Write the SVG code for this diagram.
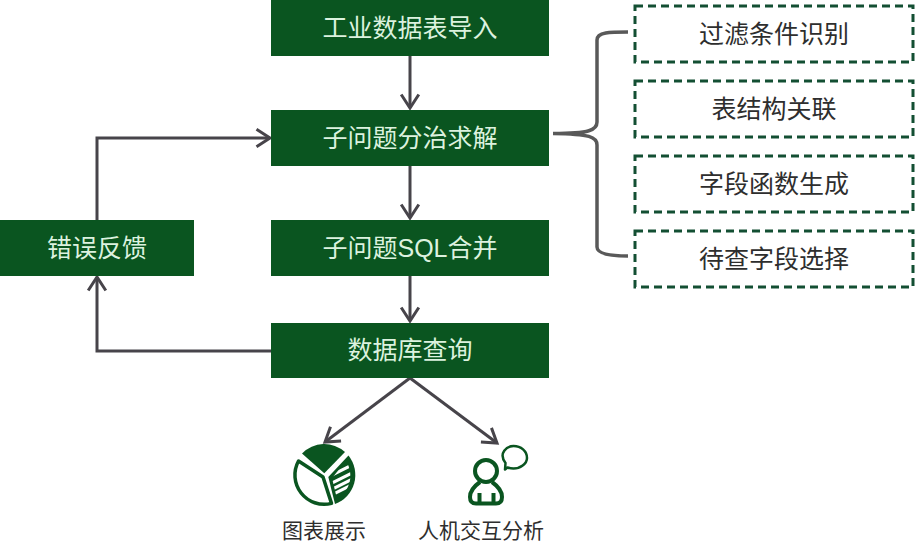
<svg xmlns="http://www.w3.org/2000/svg" width="915" height="551" viewBox="0 0 915 551">
<defs>
<marker id="arrow" markerUnits="userSpaceOnUse" markerWidth="20" markerHeight="24" refX="16" refY="12" orient="auto" viewBox="0 0 20 24">
<path d="M2.500 3.200 L16 12 L2.500 20.800" fill="none" stroke="#47444a" stroke-width="3"/>
</marker>
<clipPath id="hatch"><path d="M332 478 L346 461 A27 27 0 0 1 337 499 Z"/></clipPath>
</defs>
<style>
text{font-family:"Liberation Sans","Noto Sans CJK SC",sans-serif;text-anchor:middle}
.box{fill:#0a5520}
.bt{fill:#dcf2df;font-size:25px}
.dash{fill:#fff;stroke:#134f33;stroke-width:3;stroke-dasharray:8 5}
.dt{fill:#2e2e2e;font-size:25px}
.lbl{fill:#2e2e2e;font-size:21px}
.c{fill:none;stroke:#47444a;stroke-width:3}
.ic{fill:none;stroke:#0a5520;stroke-width:4}
</style>
<rect width="915" height="551" fill="#fff"/>
<g id="connectors">
<path class="c" d="M410 56V108" marker-end="url(#arrow)"/>
<path class="c" d="M410 166V218" marker-end="url(#arrow)"/>
<path class="c" d="M410 276V321" marker-end="url(#arrow)"/>
<path class="c" d="M97 220V138H270" marker-end="url(#arrow)"/>
<path class="c" d="M271 351H97V277" marker-end="url(#arrow)"/>
<path class="c" d="M410 378L325 442" marker-end="url(#arrow)"/>
<path class="c" d="M410 378L497 443" marker-end="url(#arrow)"/>
<path style="fill:none;stroke:#595959;stroke-width:3.500" d="M628 32C610 32 597 32 597 40V122C597 130 590 133.500 553 133.500C590 134 597 137 597 145V247C597 254 610 256 628 256"/>
</g>
<g id="n1"><rect class="box" x="271" y="0" width="278" height="56"/><text class="bt" x="410" y="37">工业数据表导入</text></g>
<g id="n2"><rect class="box" x="271" y="110" width="278" height="56"/><text class="bt" x="410" y="147">子问题分治求解</text></g>
<g id="n3"><rect class="box" x="271" y="220" width="278" height="56"/><text class="bt" x="410" y="257">子问题SQL合并</text></g>
<g id="n4"><rect class="box" x="271" y="323" width="278" height="55"/><text class="bt" x="410" y="359">数据库查询</text></g>
<g id="n5"><rect class="box" x="0" y="220" width="194" height="56"/><text class="bt" x="97" y="257">错误反馈</text></g>
<g id="d1"><rect class="dash" x="635" y="6" width="278" height="56"/><text class="dt" x="774" y="43">过滤条件识别</text></g>
<g id="d2"><rect class="dash" x="635" y="81" width="278" height="56"/><text class="dt" x="774" y="118">表结构关联</text></g>
<g id="d3"><rect class="dash" x="635" y="156" width="278" height="56"/><text class="dt" x="774" y="193">字段函数生成</text></g>
<g id="d4"><rect class="dash" x="635" y="231" width="278" height="56"/><text class="dt" x="774" y="268">待查字段选择</text></g>
<g id="chart">
<path d="M298.500 461L323 477L331.500 503.400A29.300 29.300 0 0 1 298.500 461Z" fill="#fff" stroke="#0a5520" stroke-width="3.500" stroke-linejoin="round"/>
<path d="M302 453.400A31 31 0 0 1 345 452L324.300 473.300Z" fill="#0a5520"/>
<path d="M328.300 477L348.500 455.500A31 31 0 0 1 335 504Z" fill="#0a5520"/>
<g clip-path="url(#hatch)" stroke="#fff" stroke-width="3.200">
<path d="M326 478L358 462M326 486L358 470M326 492.200L358 476.200M326 497.800L358 481.800"/>
</g>
<text class="lbl" x="324" y="538">图表展示</text>
</g>
<g id="person">
<circle class="ic" cx="486" cy="471" r="11"/>
<path class="ic" d="M480 482C473 487 470 491 470 497C470 501 472 503.500 476 503.500H496C500 503.500 502 501 502 497C502 491 499 487 492 482M479.500 493V503M493.500 493V503" stroke-linejoin="round"/>
<path d="M505 469.500L505.500 463C498 453 507 446 513.500 446C521 446 527 451 527 458C527 464 520 468.500 513.500 468.500C511 468.500 509 468 507.500 467.500Z" fill="#fff" stroke="#0a5520" stroke-width="2.500" stroke-linejoin="round"/>
<text class="lbl" x="481" y="538">人机交互分析</text>
</g>
</svg>
